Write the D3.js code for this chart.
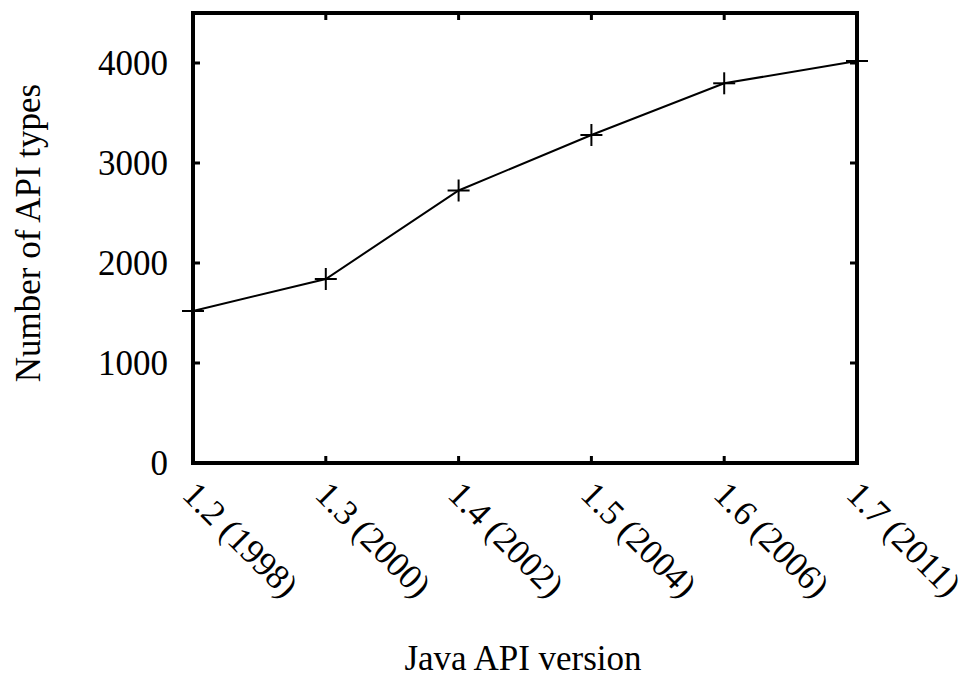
<!DOCTYPE html>
<html>
<head>
<meta charset="utf-8">
<script src="https://cdn.jsdelivr.net/npm/d3@7"></script>
<style>
  body { margin: 0; background: #fff; }
  text { font-family: "Liberation Serif", "Times New Roman", serif; fill: #000; }
</style>
</head>
<body>
<div id="chart"></div>
<script>
const versions = ['1.2 (1998)', '1.3 (2000)', '1.4 (2002)', '1.5 (2004)', '1.6 (2006)', '1.7 (2011)'];
const apiTypes = [1520, 1840, 2725, 3280, 3797, 4020];
const yTicks = [0, 1000, 2000, 3000, 4000];

const width = 968, height = 685;
const margin = {top: 13, right: 111, bottom: 222, left: 193};
const w = width - margin.left - margin.right;
const h = height - margin.top - margin.bottom;
const fs = '35px';

const svg = d3.select('#chart').append('svg').attr('width', width).attr('height', height);
const g = svg.append('g').attr('transform', `translate(${margin.left},${margin.top})`);

const x = d3.scalePoint().domain(versions).range([0, w]);
const y = d3.scaleLinear().domain([0, 4500]).range([h, 0]);

// inward ticks, mirrored on top and right
const tl = 7;
g.selectAll('.yt').data(yTicks).enter().append('line')
  .attr('x1', 0).attr('x2', tl).attr('y1', d => y(d)).attr('y2', d => y(d))
  .attr('stroke', '#000').attr('stroke-width', 3);
g.selectAll('.yt2').data(yTicks).enter().append('line')
  .attr('x1', w).attr('x2', w - tl).attr('y1', d => y(d)).attr('y2', d => y(d))
  .attr('stroke', '#000').attr('stroke-width', 3);
g.selectAll('.xt').data(versions).enter().append('line')
  .attr('x1', d => x(d)).attr('x2', d => x(d)).attr('y1', h).attr('y2', h - tl)
  .attr('stroke', '#000').attr('stroke-width', 3);
g.selectAll('.xt2').data(versions).enter().append('line')
  .attr('x1', d => x(d)).attr('x2', d => x(d)).attr('y1', 0).attr('y2', tl)
  .attr('stroke', '#000').attr('stroke-width', 3);

// y tick labels
g.selectAll('.yl').data(yTicks).enter().append('text')
  .attr('x', -25).attr('y', d => y(d)).attr('dy', '0.35em')
  .attr('text-anchor', 'end').style('font-size', fs).text(d => d);

// x tick labels rotated
g.selectAll('.xl').data(versions).enter().append('text')
  .attr('transform', d => `translate(${x(d) + 5},${h + 16}) rotate(45)`)
  .attr('dy', '0.7em')
  .attr('text-anchor', 'start').style('font-size', fs).text(d => d);

// line + plus markers
const line = d3.line().x((d, i) => x(versions[i])).y(d => y(d));
g.append('path').datum(apiTypes).attr('d', line)
  .attr('fill', 'none').attr('stroke', '#000').attr('stroke-width', 2);
const m = 11;
const pts = g.selectAll('.pt').data(apiTypes).enter().append('g')
  .attr('transform', (d, i) => `translate(${x(versions[i])},${y(d)})`);
pts.append('line').attr('x1', -m).attr('x2', m).attr('stroke', '#000').attr('stroke-width', 2);
pts.append('line').attr('y1', -m).attr('y2', m).attr('stroke', '#000').attr('stroke-width', 2);

// frame
g.append('rect').attr('width', w).attr('height', h)
  .attr('fill', 'none').attr('stroke', '#000').attr('stroke-width', 4);

// axis titles
svg.append('text').attr('x', margin.left + w / 2 - 2).attr('y', 670)
  .attr('text-anchor', 'middle').style('font-size', fs).text('Java API version');
svg.append('text').attr('transform', `translate(40,233) rotate(-90)`)
  .attr('text-anchor', 'middle').style('font-size', fs).text('Number of API types');
</script>
</body>
</html>
